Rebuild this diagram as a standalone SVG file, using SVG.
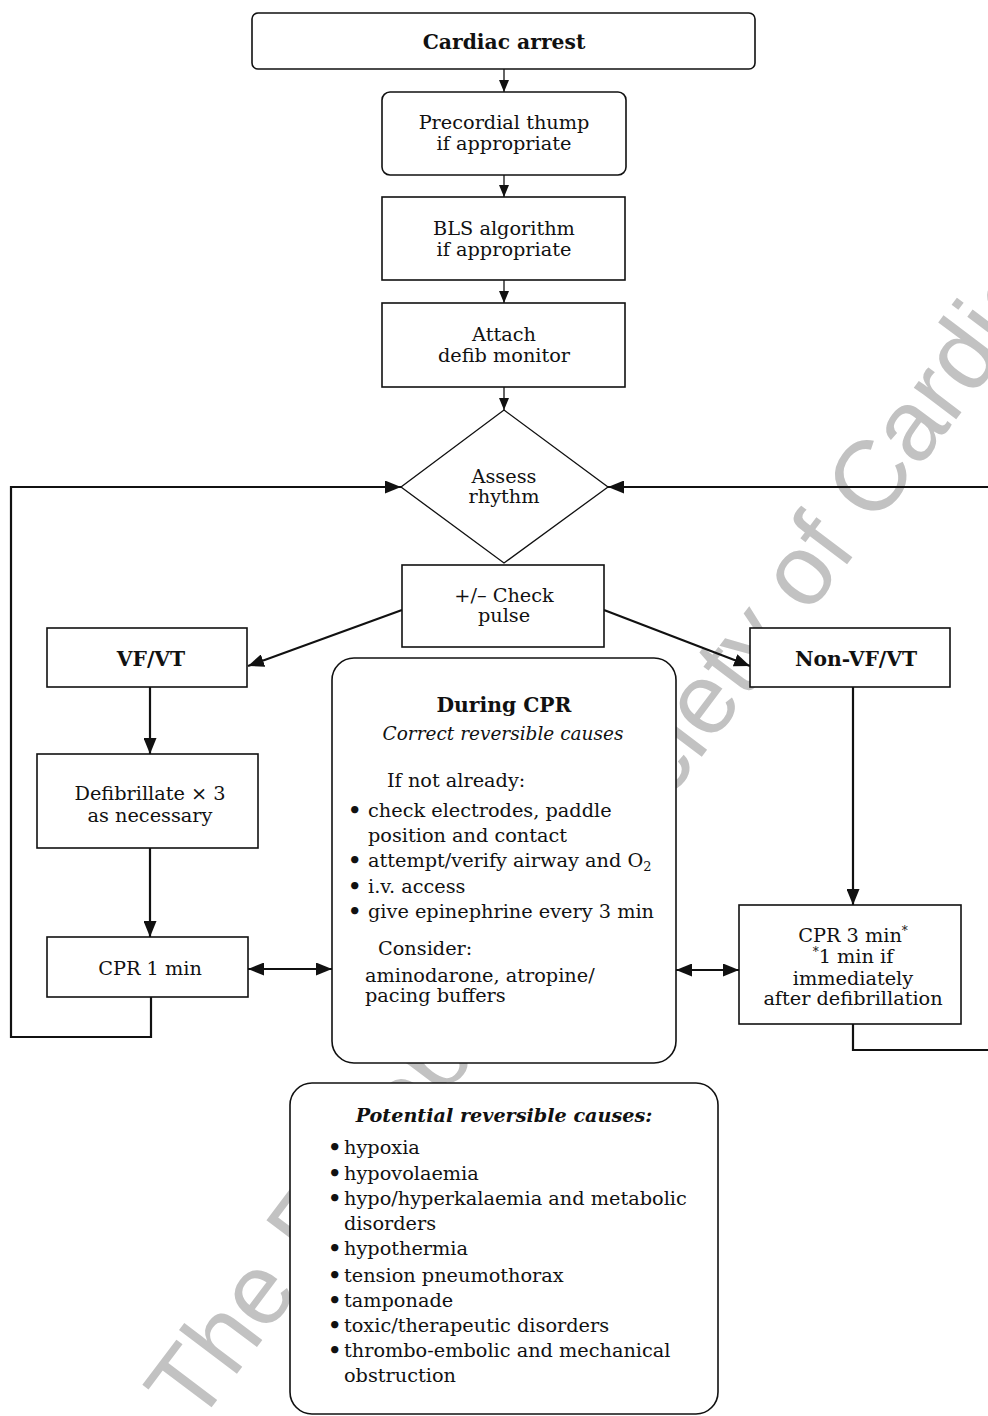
<svg xmlns="http://www.w3.org/2000/svg" width="988" height="1416" viewBox="0 0 988 1416">
<style>
.bx{fill:#fff;stroke:#111;stroke-width:1.6}
.t{font-family:"DejaVu Serif","Liberation Serif",serif;font-size:19.3px;fill:#111}
.c{text-anchor:middle}
.b{font-weight:bold;font-size:20.3px}
.i{font-style:italic;font-size:18.5px}
.bi{font-weight:bold;font-style:italic;font-size:19.2px}
.bu{font-size:21px;font-weight:bold}
.cs{fill:none;stroke:#111;stroke-width:1.3}
.cl{fill:none;stroke:#111;stroke-width:2.2}
.wm{font-family:"Liberation Sans",Arial,sans-serif;font-size:100px;fill:#c2c2c2}
</style>
<defs>
<marker id="as" markerUnits="userSpaceOnUse" markerWidth="12" markerHeight="10" refX="12" refY="5" orient="auto"><path d="M0,0 L12,5 L0,10 z" fill="#111"/></marker>
<marker id="al" markerUnits="userSpaceOnUse" markerWidth="16" markerHeight="13" refX="16" refY="6.5" orient="auto-start-reverse"><path d="M0,0 L16,6.5 L0,13 z" fill="#111"/></marker>
</defs>
<text class="wm" x="196" y="1428" transform="rotate(-53 196 1428)">The European Society of Cardiology</text>
<g id="connectors">
<path class="cs" d="M504,69 V92" marker-end="url(#as)"/>
<path class="cs" d="M504,175 V197" marker-end="url(#as)"/>
<path class="cs" d="M504,280 V303" marker-end="url(#as)"/>
<path class="cs" d="M504,387 V410" marker-end="url(#as)"/>
<path class="cl" d="M402,610 L248,666" marker-end="url(#al)"/>
<path class="cl" d="M604,610 L750,666" marker-end="url(#al)"/>
<path class="cl" d="M150,687 V754" marker-end="url(#al)"/>
<path class="cl" d="M150,848 V937" marker-end="url(#al)"/>
<path class="cl" d="M248,969 H332" marker-start="url(#al)" marker-end="url(#al)"/>
<path class="cl" d="M853,687 V905" marker-end="url(#al)"/>
<path class="cl" d="M676,970 H739" marker-start="url(#al)" marker-end="url(#al)"/>
<path class="cl" d="M151,997 V1037 H11 V487 H401" marker-end="url(#al)"/>
<path class="cl" d="M853,1024 V1050 H996 V487 H608" marker-end="url(#al)"/>
</g>
<g id="cardiac-arrest">
<rect class="bx" x="252" y="13" width="503" height="56" rx="6"/>
<text class="t c b" x="504" y="49">Cardiac arrest</text>
</g>
<g id="precordial-thump">
<rect class="bx" x="382" y="92" width="244" height="83" rx="8"/>
<text class="t c" x="504" y="129">Precordial thump<tspan x="504" dy="21">if appropriate</tspan></text>
</g>
<g id="bls">
<rect class="bx" x="382" y="197" width="243" height="83"/>
<text class="t c" x="504" y="235">BLS algorithm<tspan x="504" dy="21">if appropriate</tspan></text>
</g>
<g id="attach">
<rect class="bx" x="382" y="303" width="243" height="84"/>
<text class="t c" x="504" y="341">Attach<tspan x="504" dy="21">defib monitor</tspan></text>
</g>
<g id="assess-rhythm">
<path class="bx" style="stroke-width:1.3" d="M504,410 L608,487 L504,563 L401,487 z"/>
<text class="t c" x="504" y="483">Assess<tspan x="504" dy="20">rhythm</tspan></text>
</g>
<g id="check-pulse">
<rect class="bx" x="402" y="565" width="202" height="82"/>
<text class="t c" x="504" y="602">+/– Check<tspan x="504" dy="20">pulse</tspan></text>
</g>
<g id="vf-vt">
<rect class="bx" x="47" y="628" width="200" height="59"/>
<text class="t c b" x="151" y="666">VF/VT</text>
</g>
<g id="non-vf-vt">
<rect class="bx" x="750" y="628" width="200" height="59"/>
<text class="t c b" x="856" y="666">Non-VF/VT</text>
</g>
<g id="defibrillate">
<rect class="bx" x="37" y="754" width="221" height="94"/>
<text class="t c" x="150" y="800">Defibrillate × 3<tspan x="150" dy="22">as necessary</tspan></text>
</g>
<g id="cpr-1min">
<rect class="bx" x="47" y="937" width="201" height="60"/>
<text class="t c" x="150" y="975">CPR 1 min</text>
</g>
<g id="cpr-3min">
<rect class="bx" x="739" y="905" width="222" height="119"/>
<text class="t c" x="853" y="942">CPR 3 min<tspan font-size="12" dy="-7">*</tspan><tspan x="853" y="963" font-size="12" dy="-7">*</tspan><tspan dy="7">1 min if</tspan><tspan x="853" y="985">immediately</tspan><tspan x="853" y="1005">after defibrillation</tspan></text>
</g>
<g id="during-cpr">
<rect class="bx" x="332" y="658" width="344" height="405" rx="22"/>
<text class="t c b" x="504" y="712">During CPR</text>
<text class="t c i" x="503" y="740">Correct reversible causes</text>
<text class="t" x="387" y="787">If not already:</text>
<text class="t" x="348" y="817"><tspan class="bu">•</tspan><tspan x="368">check electrodes, paddle</tspan><tspan x="368" y="842">position and contact</tspan></text>
<text class="t" x="348" y="867"><tspan class="bu">•</tspan><tspan x="368">attempt/verify airway and O</tspan><tspan font-size="13" dy="4">2</tspan></text>
<text class="t" x="348" y="893"><tspan class="bu">•</tspan><tspan x="368">i.v. access</tspan></text>
<text class="t" x="348" y="918"><tspan class="bu">•</tspan><tspan x="368">give epinephrine every 3 min</tspan></text>
<text class="t" x="378" y="955">Consider:</text>
<text class="t" x="365" y="982">aminodarone, atropine/<tspan x="365" y="1002">pacing buffers</tspan></text>
</g>
<g id="potential-causes">
<rect class="bx" x="290" y="1083" width="428" height="331" rx="22"/>
<text class="t c bi" x="504" y="1122">Potential reversible causes:</text>
<text class="t" x="328" y="1154"><tspan class="bu">•</tspan><tspan x="344">hypoxia</tspan></text>
<text class="t" x="328" y="1180"><tspan class="bu">•</tspan><tspan x="344">hypovolaemia</tspan></text>
<text class="t" x="328" y="1205"><tspan class="bu">•</tspan><tspan x="344">hypo/hyperkalaemia and metabolic</tspan><tspan x="344" y="1230">disorders</tspan></text>
<text class="t" x="328" y="1255"><tspan class="bu">•</tspan><tspan x="344">hypothermia</tspan></text>
<text class="t" x="328" y="1282"><tspan class="bu">•</tspan><tspan x="344">tension pneumothorax</tspan></text>
<text class="t" x="328" y="1307"><tspan class="bu">•</tspan><tspan x="344">tamponade</tspan></text>
<text class="t" x="328" y="1332"><tspan class="bu">•</tspan><tspan x="344">toxic/therapeutic disorders</tspan></text>
<text class="t" x="328" y="1357"><tspan class="bu">•</tspan><tspan x="344">thrombo-embolic and mechanical</tspan><tspan x="344" y="1382">obstruction</tspan></text>
</g>
</svg>
